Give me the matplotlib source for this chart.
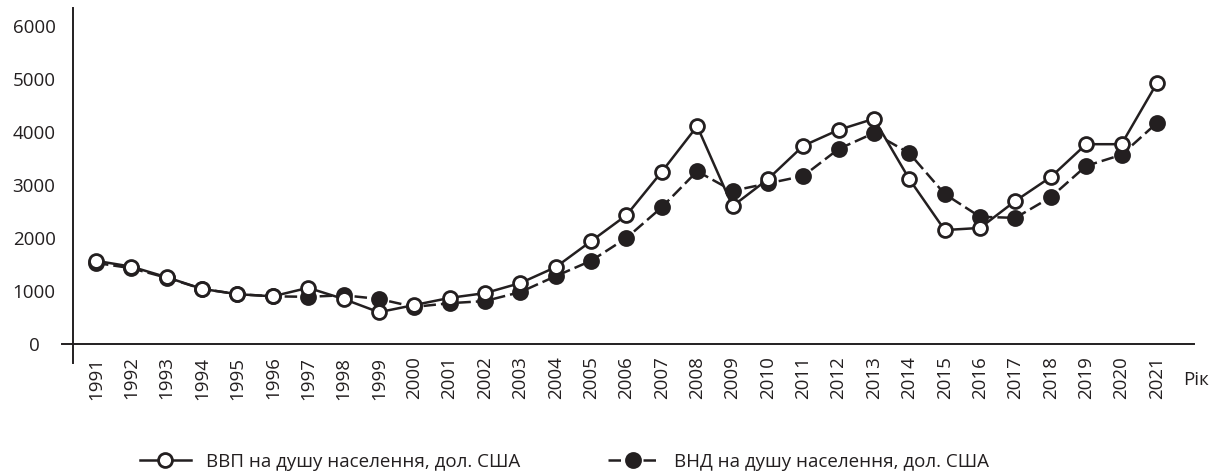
import matplotlib
matplotlib.use('Agg')
import matplotlib.pyplot as plt

plt.rcParams['font.family'] = ['Open Sans', 'DejaVu Sans']

years = list(range(1991, 2022))
gdp = [1570, 1460, 1260, 1040, 940, 900, 1060, 850, 600, 735,
       870, 960, 1150, 1450, 1940, 2430, 3250, 4110, 2600, 3110,
       3740, 4040, 4250, 3110, 2150, 2190, 2700, 3150, 3770, 3770,
       4920]
gni = [1530, 1430, 1250, 1040, 940, 900, 890, 920, 850, 700,
       770, 810, 980, 1280, 1570, 2000, 2580, 3260, 2890, 3030,
       3170, 3680, 3980, 3600, 2830, 2400, 2380, 2770, 3360, 3570,
       4170]
yticks = [0, 1000, 2000, 3000, 4000, 5000, 6000]
gdp_label = 'ВВП на душу населення, дол. США'
gni_label = 'ВНД на душу населення, дол. США'

ink = '#231f20'

fig = plt.figure(figsize=(12.1, 4.74), dpi=100)
ax = fig.add_axes([73 / 1210, 130 / 474, 1121 / 1210, 336 / 474])

x0, x1 = 1990.35, 2022.05
ax.set_xlim(x0, x1)
ax.set_ylim(0, 6340)

l2, = ax.plot(years, gni, color=ink, lw=1.8, linestyle=(0, (5, 2)),
              marker='o', ms=10.5, mfc=ink, mec=ink, mew=1.6, label=gni_label, zorder=3)
l1, = ax.plot(years, gdp, color=ink, lw=1.8, marker='o', ms=10,
              mfc='white', mec=ink, mew=2, label=gdp_label, zorder=4)

for s in ax.spines.values():
    s.set_visible(False)
# custom axis lines: y-axis runs below zero, x-axis starts left of it
ax.plot([x0, x0], [-360, 6340], color=ink, lw=1.4, clip_on=False, zorder=5)
ax.plot([1990.04, x1], [0, 0], color=ink, lw=1.4, clip_on=False, zorder=5)

ax.set_xticks(years)
ax.set_xticklabels([str(y) for y in years], rotation=90, va='top', ha='center')
ax.set_yticks(yticks)
ax.set_yticklabels([str(v) for v in yticks], ha='center')
ax.tick_params(axis='x', length=0, pad=9, labelsize=13.5, colors=ink)
ax.tick_params(axis='y', length=0, pad=28, labelsize=13.5, colors=ink)

fig.text(1183 / 1210, 1 - 380 / 474, 'Рік', ha='left', va='center', fontsize=13.5, color=ink)

fig.legend(handles=[l1, l2], loc='center left', bbox_to_anchor=(140 / 1210, 1 - 462 / 474),
           ncol=2, frameon=False, fontsize=13.5, handlelength=2.7, handletextpad=0.8,
           columnspacing=4.7, labelcolor=ink, borderpad=0, borderaxespad=0)

fig.savefig('out.png', dpi=100)
